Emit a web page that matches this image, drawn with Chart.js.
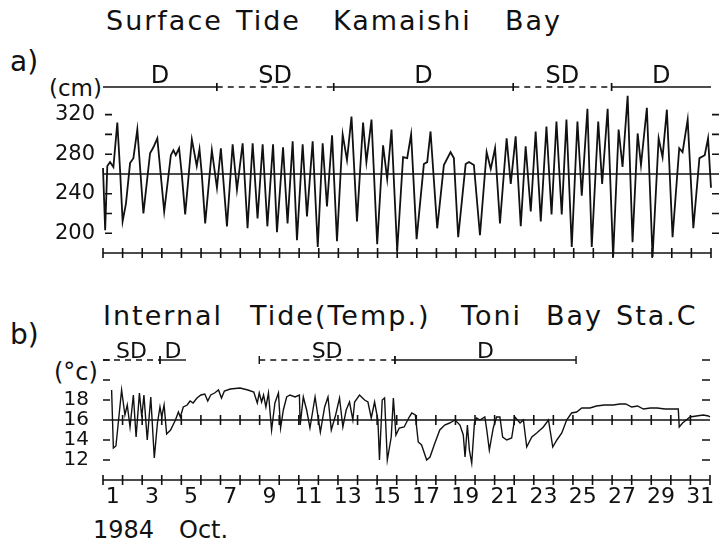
<!DOCTYPE html>
<html>
<head>
<meta charset="utf-8">
<script src="https://cdn.jsdelivr.net/npm/chart.js"></script>
<style>
  body { margin: 0; background: #fff; }
  #wrap { position: relative; width: 719px; height: 543px; overflow: hidden;
          font-family: 'DejaVu Sans', sans-serif; color: #111; }
  .t { position: absolute; white-space: nowrap; line-height: 1; }
  .ttl { font-size: 27px; letter-spacing: 2px; }
  .box { position: absolute; left: 0; width: 719px; }
</style>
</head>
<body>
<div id="wrap">
  <div class="t ttl" style="left:106px; top:7px">Surface</div>
  <div class="t ttl" style="left:236px; top:7px">Tide</div>
  <div class="t ttl" style="left:333px; top:7px">Kamaishi</div>
  <div class="t ttl" style="left:505px; top:7px">Bay</div>
  <div class="t" style="left:10px; top:48px; font-size:28px">a)</div>
  <div class="t" style="left:49px; top:77px; font-size:23px">(cm)</div>

  <div class="t ttl" style="left:103px; top:302px">Internal</div>
  <div class="t ttl" style="left:250px; top:302px">Tide(Temp.)</div>
  <div class="t ttl" style="left:461px; top:302px">Toni</div>
  <div class="t ttl" style="left:546px; top:302px">Bay</div>
  <div class="t ttl" style="left:616px; top:302px">Sta.C</div>
  <div class="t" style="left:10px; top:321px; font-size:28px">b)</div>
  <div class="t" style="left:54px; top:360px; font-size:24px">(°c)</div>
  <div class="t" style="left:93px; top:518px; font-size:24px">1984</div>
  <div class="t" style="left:179px; top:518px; font-size:24px">Oct.</div>

  <div class="box" style="top:0; height:262px"><canvas id="tideChart"></canvas></div>
  <div class="box" style="top:270px; height:273px"><canvas id="tempChart"></canvas></div>
</div>

<script>
// a) surface tide, Kamaishi Bay: time in days from 1 Oct 00:00, level in cm
const tideDays = [0.00, 0.11, 0.22, 0.36, 0.53, 0.73, 0.87, 1.00, 1.17, 1.38,
  1.55, 1.75, 2.06, 2.40, 2.57, 2.77, 3.12, 3.46, 3.59, 3.71,
  3.88, 4.02, 4.19, 4.53, 4.78, 4.92, 5.04, 5.21, 5.55, 5.81,
  6.01, 6.32, 6.61, 6.83, 7.12, 7.37, 7.63, 7.88, 8.14, 8.38,
  8.67, 8.87, 9.18, 9.41, 9.67, 9.89, 10.18, 10.40, 10.69, 10.95,
  11.20, 11.42, 11.68, 11.93, 12.22, 12.44, 12.67, 12.95, 13.26, 13.43,
  13.69, 13.98, 14.28, 14.49, 14.71, 15.00, 15.30, 15.51, 15.71, 15.99,
  16.36, 16.53, 16.70, 17.04, 17.38, 17.72, 17.89, 18.11, 18.49, 18.66,
  18.91, 19.22, 19.56, 19.77, 19.99, 20.24, 20.58, 20.79, 21.04, 21.30,
  21.55, 21.81, 22.06, 22.32, 22.61, 22.87, 23.12, 23.39, 23.63, 23.90,
  24.19, 24.41, 24.70, 24.92, 25.25, 25.45, 25.73, 26.01, 26.29, 26.49,
  26.75, 27.00, 27.26, 27.43, 27.73, 28.02, 28.33, 28.53, 28.75, 29.04,
  29.38, 29.55, 29.81, 30.10, 30.41, 30.68, 30.85, 31.00];
const tideCm = [266, 203, 268, 272, 267, 312, 264, 212, 230, 271,
  276, 305, 220, 281, 287, 296, 222, 279, 284, 279,
  286, 259, 219, 295, 268, 285, 259, 210, 284, 246,
  286, 207, 290, 244, 291, 205, 291, 215, 290, 207,
  290, 201, 287, 210, 293, 193, 290, 217, 293, 186,
  291, 227, 299, 192, 300, 274, 318, 212, 312, 272,
  315, 189, 289, 255, 305, 182, 277, 276, 300, 194,
  270, 272, 303, 205, 269, 282, 276, 196, 270, 272,
  269, 198, 282, 265, 286, 210, 296, 250, 298, 207,
  288, 222, 303, 212, 308, 219, 313, 219, 315, 186,
  313, 238, 326, 186, 313, 250, 326, 176, 305, 267,
  339, 191, 301, 269, 327, 176, 296, 277, 325, 196,
  286, 282, 315, 205, 276, 279, 296, 246];

// b) internal tide (temperature), Toni Bay Sta.C
const tempDays = [0.44, 0.53, 0.66, 0.78, 0.95, 1.12, 1.24, 1.38, 1.55, 1.69,
  1.86, 1.98, 2.09, 2.26, 2.44, 2.62, 2.78, 2.91, 3.00, 3.12,
  3.25, 3.45, 3.70, 3.85, 3.95, 4.10, 4.30, 4.45, 4.60, 4.80,
  5.00, 5.20, 5.35, 5.50, 5.70, 5.90, 6.05, 6.20, 6.50, 7.00,
  7.40, 7.70, 7.88, 7.98, 8.10, 8.20, 8.32, 8.45, 8.61, 8.78,
  8.96, 9.07, 9.21, 9.38, 9.55, 9.81, 10.03, 10.07, 10.23, 10.40,
  10.57, 10.83, 11.10, 11.32, 11.49, 11.66, 11.88, 12.08, 12.25, 12.42,
  12.59, 12.76, 12.85, 13.10, 13.36, 13.53, 13.70, 13.87, 14.04, 14.12,
  14.26, 14.38, 14.52, 14.72, 14.83, 14.96, 15.13, 15.38, 15.64, 15.77,
  15.95, 16.10, 16.27, 16.53, 16.70, 16.95, 17.20, 17.45, 17.70, 17.98,
  18.23, 18.40, 18.49, 18.61, 18.71, 18.83, 18.97, 19.08, 19.25, 19.50,
  19.60, 19.73, 19.93, 20.10, 20.27, 20.41, 20.62, 20.87, 21.04, 21.30,
  21.47, 21.64, 21.90, 22.15, 22.49, 22.75, 22.97, 23.18, 23.43, 23.68,
  23.93, 24.19, 24.45, 24.87, 25.20, 25.60, 26.06, 26.40, 26.70, 27.00,
  27.30, 27.60, 27.95, 28.30, 28.70, 29.05, 29.38, 29.43, 29.60, 29.98,
  30.30, 30.66, 30.92, 31.00];
const tempC = [19.0, 13.2, 13.4, 15.7, 19.0, 16.5, 17.5, 15.3, 18.5, 14.3,
  18.7, 16.3, 18.5, 14.0, 18.3, 12.2, 15.7, 17.3, 16.3, 17.5,
  14.6, 15.0, 16.0, 16.8, 16.3, 17.3, 17.5, 17.9, 17.7, 18.2,
  18.5, 18.6, 17.9, 18.5, 18.7, 19.0, 18.2, 18.9, 19.1, 19.2,
  19.0, 18.8, 17.7, 18.7, 17.8, 18.5, 17.3, 18.7, 15.0, 17.7,
  18.7, 15.2, 17.0, 18.3, 18.5, 18.3, 18.5, 15.5, 18.3, 17.0,
  15.2, 18.3, 14.8, 17.3, 18.3, 15.0, 16.5, 18.2, 15.3, 17.0,
  17.8, 16.0, 17.8, 18.5, 18.0, 17.8, 16.2, 17.8, 16.0, 12.0,
  18.0, 18.2, 12.0, 14.3, 18.2, 14.5, 15.2, 15.3, 16.3, 16.7,
  16.5, 13.8, 13.5, 12.0, 12.3, 13.7, 15.0, 15.5, 15.7, 16.0,
  15.5, 14.5, 12.3, 15.5, 13.0, 11.7, 15.7, 16.2, 16.0, 16.3,
  15.0, 13.0, 15.2, 16.3, 16.3, 14.3, 14.0, 14.2, 16.3, 15.7,
  16.0, 13.3, 14.3, 14.7, 15.3, 16.0, 13.3, 14.0, 14.7, 16.0,
  16.7, 16.8, 17.2, 17.2, 17.4, 17.5, 17.5, 17.6, 17.6, 17.3,
  17.4, 17.1, 17.2, 17.2, 17.1, 17.1, 17.1, 15.3, 15.7, 16.3,
  16.4, 16.5, 16.4, 16.3];

// diurnal (D) / semi-diurnal (SD) periods: [label, from day, to day]
const periodsA = [['D', 0, 5.8], ['SD', 5.8, 11.76], ['D', 11.76, 20.92], ['SD', 20.92, 25.93], ['D', 25.93, 31]];
const periodsB = [['SD', 0, 2.91], ['D', 2.91, 4.24], ['SD', 7.98, 14.91], ['D', 14.91, 24.16]];
const periodMarksA = [5.8, 11.76, 20.92, 25.93];
const periodMarksB = [2.91, 7.98, 14.91, 24.16];

// tick labels
const cmLabels = [200, 240, 280, 320];
const cmMarks = [200, 220, 240, 280, 300, 320];
const degLabels = [12, 14, 16, 18];
const degMarks = [12, 14, 18, 20, 22];
const dayLabels = ['1', '3', '5', '7', '9', '11', '13', '15', '17', '19', '21', '23', '25', '27', '29', '31'];

const ink = '#111';
Chart.defaults.font.family = "'DejaVu Sans', sans-serif";
Chart.defaults.color = ink;

// axis line with day crosses, mean level, side marks and D/SD labels
const tideFrame = {
    id: 'tideFrame',
    beforeDatasetsDraw(chart, args, o) {
        const { ctx, chartArea: a } = chart;
        const x = chart.scales.x, y = chart.scales.y;
        ctx.save();
        ctx.strokeStyle = ink;
        ctx.lineWidth = 1.6;
        ctx.beginPath();
        const yb = y.getPixelForValue(y.min);
        ctx.moveTo(a.left, yb);
        ctx.lineTo(a.right, yb);
        for (let d = 0; d <= x.max; d++) {
            const px = x.getPixelForValue(d);
            ctx.moveTo(px, yb - 5);
            ctx.lineTo(px, yb + 5);
        }
        const ym = y.getPixelForValue(o.mean);
        ctx.moveTo(a.left, ym);
        ctx.lineTo(a.right + o.meanOver, ym);
        if (o.meanCross) {
            for (let d = 1; d < x.max; d++) {
                const px = x.getPixelForValue(d);
                ctx.moveTo(px, ym - 5);
                ctx.lineTo(px, ym + 5);
            }
        }
        o.marks.forEach(v => {
            const py = y.getPixelForValue(v);
            ctx.moveTo(a.left + o.left[0], py);
            ctx.lineTo(a.left + o.left[1], py);
            ctx.moveTo(a.right + o.right[0], py);
            ctx.lineTo(a.right + o.right[1], py);
        });
        ctx.stroke();

        ctx.fillStyle = ink;
        ctx.font = o.labelFont;
        ctx.textAlign = 'center';
        ctx.textBaseline = 'alphabetic';
        const yl = y.getPixelForValue(o.level) - o.gap;
        o.periods.forEach(([label, from, to]) => {
            ctx.fillText(label, (x.getPixelForValue(from) + x.getPixelForValue(to)) / 2, yl);
        });
        ctx.restore();
    }
};

function periodSets(periods, level, marks) {
    return periods.map(([label, from, to]) => ({
        data: [{ x: from, y: level }, { x: to, y: level }],
        borderColor: ink,
        borderWidth: 1.4,
        borderDash: label === 'SD' ? [6, 5] : [],
        pointStyle: 'line',
        pointRotation: 90,
        pointRadius: c => (c.raw && marks.includes(c.raw.x)) ? 4 : 0,
        pointBorderColor: ink,
        pointBorderWidth: 1.4,
        clip: false
    }));
}

new Chart(document.getElementById('tideChart'), {
    type: 'line',
    data: {
        datasets: [{
            data: tideDays.map((d, i) => ({ x: d, y: tideCm[i] })),
            borderColor: ink,
            borderWidth: 1.8,
            pointRadius: 0,
            tension: 0,
            clip: 6
        }, ...periodSets(periodsA, 348, periodMarksA)]
    },
    options: {
        responsive: true,
        maintainAspectRatio: false,
        animation: false,
        layout: { padding: { left: 0, right: 8, top: 85, bottom: 9 } },
        scales: {
            x: { type: 'linear', min: 0, max: 31, display: false },
            y: {
                min: 180, max: 350,
                grid: { display: false, drawTicks: false },
                border: { display: false },
                afterBuildTicks: s => { s.ticks = cmLabels.map(v => ({ value: v })); },
                ticks: { autoSkip: false, padding: 8, font: { size: 21 } },
                afterFit: s => { s.width = 103; s.paddingTop = 0; s.paddingBottom = 0; }
            }
        },
        plugins: {
            legend: { display: false },
            tooltip: { enabled: false },
            tideFrame: {
                mean: 260, meanOver: 8, meanCross: false,
                marks: cmMarks, left: [2, 9], right: [1, 8],
                periods: periodsA, level: 348, gap: 4,
                labelFont: "24px 'DejaVu Sans'"
            }
        }
    },
    plugins: [tideFrame]
});

new Chart(document.getElementById('tempChart'), {
    type: 'line',
    data: {
        datasets: [{
            data: tempDays.map((d, i) => ({ x: d, y: tempC[i] })),
            borderColor: ink,
            borderWidth: 1.4,
            pointRadius: 0,
            tension: 0,
            clip: 4
        }, ...periodSets(periodsB, 22, periodMarksB)]
    },
    options: {
        responsive: true,
        maintainAspectRatio: false,
        animation: false,
        layout: { padding: { left: 0, right: 9, top: 80, bottom: 33 } },
        scales: {
            x: { type: 'linear', min: 0, max: 31, display: false },
            xl: {
                type: 'linear', axis: 'x', position: 'bottom', min: 0, max: 31,
                grid: { display: false, drawTicks: false },
                border: { display: false },
                afterBuildTicks: s => { s.ticks = dayLabels.map(l => ({ value: Number(l) - 0.5 })); },
                ticks: { autoSkip: false, maxRotation: 0, padding: 4, font: { size: 22 },
                         callback: v => String(v + 0.5) },
                afterFit: s => { s.height = 30; s.paddingLeft = 0; s.paddingRight = 0; }
            },
            y: {
                min: 10, max: 23,
                grid: { display: false, drawTicks: false },
                border: { display: false },
                afterBuildTicks: s => { s.ticks = degLabels.map(v => ({ value: v })); },
                ticks: { autoSkip: false, padding: 14, font: { size: 20 } },
                afterFit: s => { s.width = 103; s.paddingTop = 0; s.paddingBottom = 0; }
            }
        },
        plugins: {
            legend: { display: false },
            tooltip: { enabled: false },
            tideFrame: {
                mean: 16, meanOver: 0, meanCross: true,
                marks: degMarks, left: [0, 7], right: [-8, 0],
                periods: periodsB, level: 22, gap: 2,
                labelFont: "22px 'DejaVu Sans'"
            }
        }
    },
    plugins: [tideFrame]
});
</script>
</body>
</html>
